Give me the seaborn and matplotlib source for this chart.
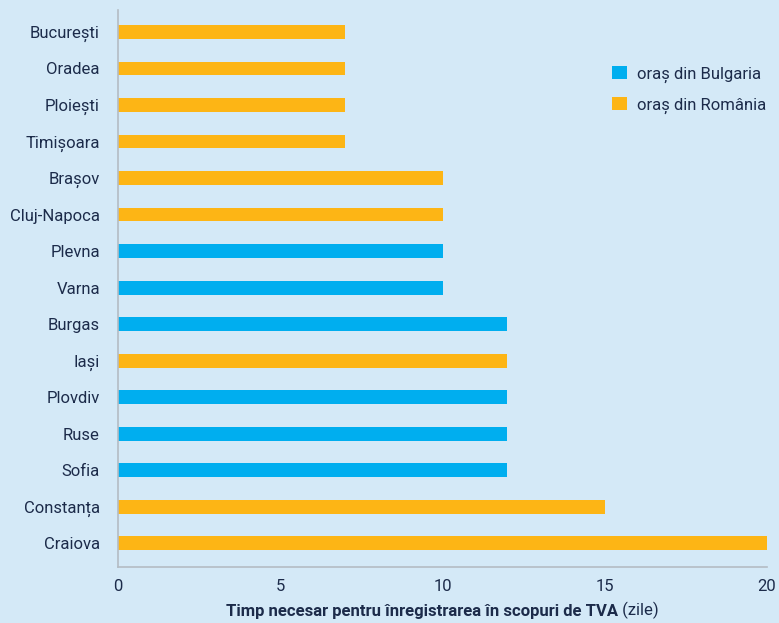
import matplotlib
matplotlib.use("Agg")
import matplotlib.pyplot as plt
from matplotlib.patches import Patch
import seaborn as sns
import pandas as pd

cities = ["București", "Oradea", "Ploiești", "Timișoara", "Brașov", "Cluj-Napoca",
          "Plevna", "Varna", "Burgas", "Iași", "Plovdiv", "Ruse", "Sofia",
          "Constanța", "Craiova"]
days = [7, 7, 7, 7, 10, 10, 10, 10, 12, 12, 12, 12, 12, 15, 20]
country = ["RO", "RO", "RO", "RO", "RO", "RO", "BG", "BG", "BG", "RO", "BG", "BG", "BG", "RO", "RO"]
legend_labels = ["oraș din Bulgaria", "oraș din România"]

BG = "#d4e9f7"
BLUE = "#00aeef"
ORANGE = "#fdb515"
TXT = "#1c2b4a"

sns.set_style("white")
plt.rcParams["font.family"] = ["Roboto", "DejaVu Sans"]

df = pd.DataFrame({"city": cities, "days": days, "country": country})

fig = plt.figure(figsize=(7.79, 6.23), dpi=100, facecolor=BG)
ax = fig.add_axes([0.1515, 0.0899, 0.8331, 0.894])
ax.set_facecolor(BG)

sns.barplot(data=df, y="city", x="days", hue="country", orient="h", dodge=False,
            palette={"BG": BLUE, "RO": ORANGE}, width=0.38, ax=ax, legend=False,
            saturation=1, linewidth=0, edgecolor="none")

ax.set_xlim(0, 20)
ax.set_ylim(14.65, -0.6)
ax.set_xticks([0, 5, 10, 15, 20])
ax.set_ylabel("")
ax.set_xlabel("")
ax.tick_params(axis="both", length=0, labelsize=12, colors=TXT)
ax.tick_params(axis="y", pad=13)
ax.tick_params(axis="x", pad=9)
for s in ["top", "right"]:
    ax.spines[s].set_visible(False)
for s in ["left", "bottom"]:
    ax.spines[s].set_color("#b4bcc4")
    ax.spines[s].set_linewidth(1.2)

handles = [Patch(facecolor=BLUE, edgecolor="none"), Patch(facecolor=ORANGE, edgecolor="none")]
leg = fig.legend(handles, legend_labels, loc="upper left", bbox_to_anchor=(0.767, 0.918),
                 frameon=False, fontsize=12, handlelength=0.85, handleheight=0.85,
                 handletextpad=0.6, labelspacing=0.85, labelcolor=TXT)

# x-axis title: bold phrase followed by regular unit
fig.canvas.draw()
r = fig.canvas.get_renderer()
t1 = fig.text(0, 0.012, "Timp necesar pentru înregistrarea în scopuri de TVA",
              fontsize=12, fontweight="bold", color=TXT, va="baseline")
t2 = fig.text(0, 0.012, " (zile)", fontsize=12, color=TXT, va="baseline")
w1 = t1.get_window_extent(r).width
w2 = t2.get_window_extent(r).width
center = (118 + 767) / 2
x0 = center - (w1 + w2) / 2
t1.set_x(x0 / fig.bbox.width)
t2.set_x((x0 + w1) / fig.bbox.width)

fig.savefig("out.png", dpi=100, facecolor=BG)
